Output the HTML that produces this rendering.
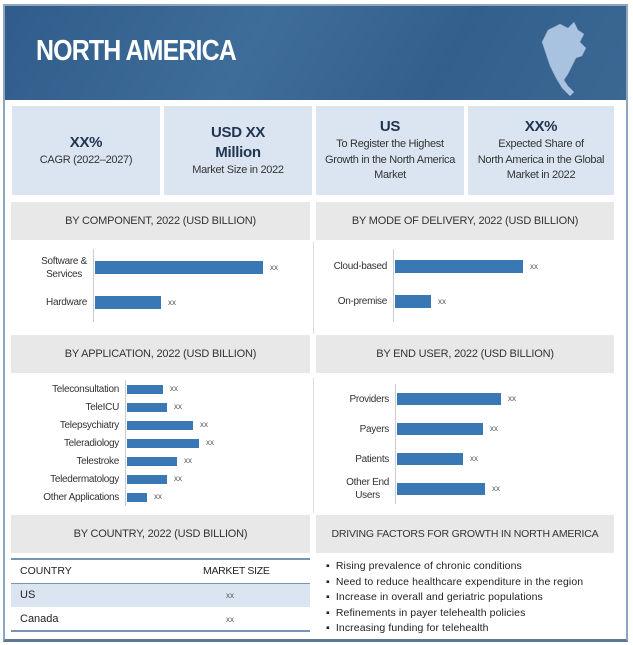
<!DOCTYPE html>
<html><head><meta charset="utf-8"><style>
*{margin:0;padding:0;box-sizing:border-box}
body{width:633px;height:645px;background:#fff;font-family:"Liberation Sans",sans-serif;color:#222;position:relative;overflow:hidden}
.abs{position:absolute}
.frame{left:3px;top:4px;width:625px;height:638px;border:2px solid #8fa6bf;border-bottom:3px solid #5d7893}
.header{left:3px;top:4px;width:625px;height:96px;background:linear-gradient(120deg,#2f5c8a 0%,#3f6d99 40%,#335f8c 70%,#3a6893 100%)}
.title{left:36px;top:35px;color:#fff;font-weight:bold;font-size:29px;letter-spacing:-1px;transform:scaleX(0.86);transform-origin:left}
.kpi{top:106px;height:89px;width:148px;background:#dbe5f1;text-align:center;display:flex;flex-direction:column;justify-content:center;font-size:11px;color:#333;line-height:15.5px;letter-spacing:-0.3px}
.kpi b{font-size:15px;color:#1f3550;line-height:20px;font-weight:bold}
.sec{height:38px;background:#e8e8e8;font-size:11px;color:#333;display:flex;align-items:center;justify-content:center;white-space:nowrap;letter-spacing:-0.2px}
.lbl{font-size:10px;color:#333;text-align:right;letter-spacing:-0.3px;white-space:nowrap}
.val{font-size:8px;color:#555}
.bullet{font-size:10.5px;color:#222;letter-spacing:0.1px;white-space:nowrap}
</style></head><body>
<div class="abs header"></div>
<div class="abs frame"></div>
<div class="abs title">NORTH AMERICA</div>
<svg class="abs" style="left:540px;top:18px" width="50" height="86">
<path d="M8 12 L20 6 L28 10 L34 4 L38 12 L44 16 L40 24 L46 30 L42 38 L36 40 L32 48 L28 56 L24 62 L28 68 L34 74 L30 78 L22 70 L16 60 L10 48 L6 36 L2 24 Z" fill="#a9c2e0" stroke="#7e9cc2" stroke-width="0.5"/></svg>

<div class="abs kpi" style="left:12px"><b>XX%</b>CAGR (2022–2027)</div>
<div class="abs kpi" style="left:164px"><b>USD XX<br>Million</b>Market Size in 2022</div>
<div class="abs kpi" style="left:316px"><b>US</b>To Register the Highest<br>Growth in the North America<br>Market</div>
<div class="abs kpi" style="left:468px;width:146px"><b>XX%</b>Expected Share of<br>North America in the Global<br>Market in 2022</div>

<div class="abs sec" style="left:11px;top:202px;width:299px">BY COMPONENT, 2022 (USD BILLION)</div>
<div class="abs sec" style="left:316px;top:202px;width:298px">BY MODE OF DELIVERY, 2022 (USD BILLION)</div>
<div class="abs sec" style="left:11px;top:335px;width:299px">BY APPLICATION, 2022 (USD BILLION)</div>
<div class="abs sec" style="left:316px;top:335px;width:298px">BY END USER, 2022 (USD BILLION)</div>
<div class="abs sec" style="left:11px;top:515px;width:299px">BY COUNTRY, 2022 (USD BILLION)</div>
<div class="abs sec" style="left:316px;top:515px;width:298px;font-size:10.5px">DRIVING FACTORS FOR GROWTH IN NORTH AMERICA</div>
<div class="abs" style="left:313px;top:242px;width:1px;height:92px;background:#ddd"></div>
<div class="abs" style="left:313px;top:378px;width:1px;height:135px;background:#ddd"></div>

<div id="charts"></div>

<div class="abs" style="left:11px;top:558px;width:299px;height:2px;background:#7a95b3"></div>
<div class="abs" style="left:11px;top:583px;width:299px;height:1px;background:#7a95b3"></div>
<div class="abs" style="left:11px;top:584px;width:299px;height:23px;background:#dbe5f1"></div>
<div class="abs" style="left:11px;top:630px;width:299px;height:2px;background:#7a95b3"></div>
<div class="abs" style="left:20px;top:565px;font-size:10.5px">COUNTRY</div>
<div class="abs" style="left:203px;top:565px;font-size:10.5px;letter-spacing:-0.3px">MARKET SIZE</div>
<div class="abs" style="left:20px;top:589px;font-size:11px">US</div>
<div class="abs val" style="left:226px;top:591px">xx</div>
<div class="abs" style="left:20px;top:613px;font-size:11px">Canada</div>
<div class="abs val" style="left:226px;top:615px">xx</div>

<div class="abs bullet" style="left:326px;top:559px;line-height:15.6px">
▪ &nbsp;Rising prevalence of chronic conditions<br>
▪ &nbsp;Need to reduce healthcare expenditure in the region<br>
▪ &nbsp;Increase in overall and geriatric populations<br>
▪ &nbsp;Refinements in payer telehealth policies<br>
▪ &nbsp;Increasing funding for telehealth</div>

<script>
const compCats=["Software &\nServices","Hardware"];
const compVals=[8.4,3.3];
const delivCats=["Cloud-based","On-premise"];
const delivVals=[6.4,1.8];
const appCats=["Teleconsultation","TeleICU","Telepsychiatry","Teleradiology","Telestroke","Teledermatology","Other Applications"];
const appVals=[1.8,2.0,3.3,3.6,2.5,2.0,1.0];
const euCats=["Providers","Payers","Patients","Other End\nUsers"];
const euVals=[5.2,4.3,3.3,4.4];
const valLabels=["xx"];

const root=document.getElementById('charts');
function chart(name,cats,vals,x0,y0,h,pxPerUnit,barH,axisTop,axisBot){
  const n=cats.length, step=h/n;
  const ax=document.createElement('div');
  ax.className='abs';
  ax.style.cssText=`left:${x0-2}px;top:${axisTop}px;width:1px;height:${axisBot-axisTop}px;background:#ccc`;
  
  
  root.appendChild(ax);
  cats.forEach((c,i)=>{
    const cy=y0+step*(i+0.5);
    const w=vals[i]*pxPerUnit;
    const b=document.createElement('div');
    b.className='abs';
    b.style.cssText=`left:${x0}px;top:${cy-barH/2}px;width:${w}px;height:${barH}px;background:#3a78b5`;
    
    
    root.appendChild(b);
    const l=document.createElement('div');
    l.className='abs lbl';
    const lines=c.split('\n');
    l.style.cssText=`right:${633-x0+8}px;top:${cy-lines.length*6.5}px;line-height:13px;text-align:center`;
    l.innerHTML=lines.join('<br>');
    
    
    root.appendChild(l);
    const v=document.createElement('div');
    v.className='abs val';
    v.style.cssText=`left:${x0+w+7}px;top:${cy-5}px`;
    v.textContent=valLabels[0];
    
    
    root.appendChild(v);
  });
}
chart('component',compCats,compVals,95,250,70,20,13,249,322);
chart('delivery',delivCats,delivVals,395,249,70,20,13,249,322);
chart('application',appCats,appVals,127,380,126,20,9,380,506);
chart('end-user',euCats,euVals,397,384,120,20,12,384,504);
</script>
</body></html>
